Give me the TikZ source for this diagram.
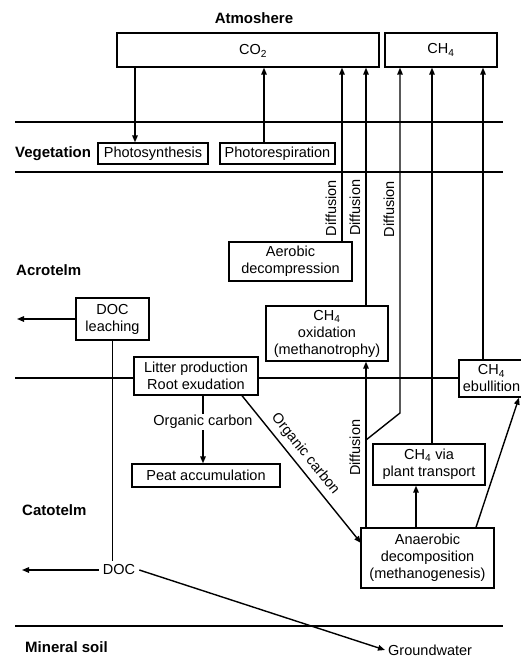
\documentclass[tikz,border=0pt]{standalone}
\usepackage{fontspec}
\setmainfont{Liberation Sans}
\usetikzlibrary{arrows.meta,calc}
\begin{document}
\begin{tikzpicture}[x=1pt,y=-1pt,
  every node/.style={font=\fontsize{14.5}{17}\selectfont},
  lbl/.style={font=\fontsize{15}{18}\selectfont\bfseries, anchor=west, inner sep=0pt},
  layer/.style={line width=2.4pt},
  box/.style={draw, line width=1.3pt, fill=white, align=center, inner sep=0pt},
  flow/.style={line width=1.4pt, -{Triangle[length=7pt,width=5.5pt]}},
  link/.style={line width=1.4pt},
  dlab/.style={sloped, above=3pt, inner sep=2pt}]
\useasboundingbox (0,0) rectangle (521,658);
\fill[white] (0,0) rectangle (521,658);

% layer labels
\node[lbl, anchor=center] (atm) at (254,18) {Atmoshere};
\node[lbl] (veg) at (15,154) {Vegetation};
\node[lbl] (acro) at (16,270) {Acrotelm};
\node[lbl] (cato) at (22,510) {Catotelm};
\node[lbl] (mins) at (25,647) {Mineral soil};

% layer lines
\draw[layer] (15,122) -- (503,122);
\draw[layer] (15,172) -- (503,172);
\draw[layer] (15,378) -- (503,378);
\draw[layer] (15,626) -- (503,626);

% boxes
\node[box, minimum width=262pt, minimum height=34pt, text depth=0pt, text height=10pt, xshift=0pt] (co2) at (248,50) {\hspace*{10pt}CO\textsubscript{2}};
\node[box, minimum width=112pt, minimum height=34pt] (ch4) at (441,50) {CH\textsubscript{4}};
\node[box, minimum width=110pt, minimum height=21pt] (photos) at (153,153.5) {Photosynthesis};
\node[box, minimum width=115pt, minimum height=21pt] (photor) at (277.5,153.5) {Photorespiration};
\node[box, minimum width=123pt, minimum height=39pt] (aerobic) at (290.5,261.5) {Aerobic\\decompression};
\node[box, minimum width=122pt, minimum height=55pt] (oxid) at (327,333.5) {CH\textsubscript{4}\\oxidation\\(methanotrophy)};
\node[box, minimum width=73pt, minimum height=42pt] (docl) at (112.5,319) {DOC\\leaching};
\node[box, minimum width=124pt, minimum height=38pt] (litter) at (196,376) {Litter production\\Root exudation};
\node[box, minimum width=148pt, minimum height=23pt] (peat) at (206,475.5) {Peat accumulation};
\node[box, minimum width=112pt, minimum height=41pt] (plant) at (429,464.5) {CH\textsubscript{4} via\\plant transport};
\node[box, minimum width=65pt, minimum height=37pt] (ebul) at (491.5,378.5) {CH\textsubscript{4}\\ebullition};
\node[box, minimum width=133pt, minimum height=60pt] (anaer) at (427.5,558) {Anaerobic\\decomposition\\(methanogenesis)};
\node[inner sep=4pt] (doc) at (119,570) {DOC};
\node[inner sep=3pt, anchor=west] (gw) at (385,650) {Groundwater};

% helper coordinates
\coordinate (xa) at (135,0);
\coordinate (xb) at (264,0);
\coordinate (xc) at (342,0);
\coordinate (xd) at (366,0);
\coordinate (xe) at (432,0);
\coordinate (xf) at (416,0);
\coordinate (xg) at (483,0);
\coordinate (xh) at (476,0);
\coordinate (xi) at (519,0);
\coordinate (xj) at (203,0);
\coordinate (xk) at (242,0);
\coordinate (jn) at (366,440);
\coordinate (bend) at (400,413);
\coordinate (anw) at (361,543);
\coordinate (outa) at (17,319);
\coordinate (outb) at (22,570);

% connectors
\draw[flow] (co2.south -| xa) -- (photos.north -| xa);
\draw[flow] (photor.north -| xb) -- (co2.south -| xb);
\draw[flow] (aerobic.north -| xc) -- node[dlab, pos=0.19] {Diffusion} (co2.south -| xc);
\draw[flow] (oxid.north -| xd) -- node[dlab, pos=0.41] {Diffusion} (co2.south -| xd);
\draw[flow] (jn) -- (bend) -- node[dlab, pos=0.59] {Diffusion} (ch4.south -| bend);
\draw[flow] (plant.north -| xe) -- (ch4.south -| xe);
\draw[flow] (anaer.north -| xd) -- node[dlab, pos=0.48] {Diffusion} (oxid.south -| xd);
\draw[flow] (anaer.north -| xf) -- (plant.south -| xf);
\draw[flow] (ebul.north -| xg) -- (ch4.south -| xg);
\draw[flow] (anaer.north -| xh) -- (ebul.south -| xi);
\draw[flow] (litter.south -| xj) -- node[pos=0.39, fill=white, inner sep=1pt] {Organic carbon} (peat.north -| xj);
\draw[flow] (litter.south -| xk) -- node[dlab, pos=0.45] {Organic carbon} (anw);
\draw[flow] (docl.west) -- (outa);
\draw[link] (docl.south) -- (docl.south |- doc.north);
\draw[flow] (doc.west) -- (outb);
\draw[flow] (doc.east) -- (gw.west);
\end{tikzpicture}
\end{document}
